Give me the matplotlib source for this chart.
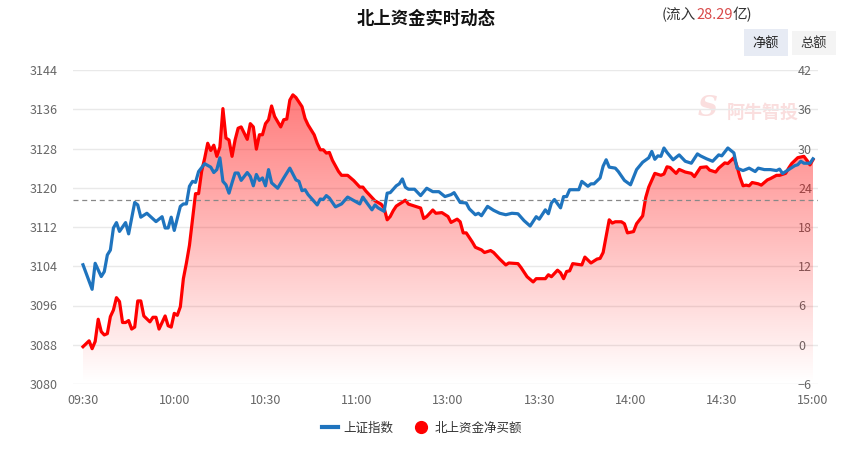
import matplotlib
matplotlib.use("Agg")
import matplotlib.pyplot as plt
import numpy as np
from matplotlib.lines import Line2D
from matplotlib.patches import Rectangle, Polygon

plt.rcParams['font.family'] = ['Noto Sans CJK SC', 'DejaVu Sans']

# x axis: trading minutes since 09:30 (11:30 and 13:00 share one point)
time_ticks = [0, 30, 60, 90, 120, 150, 180, 210, 240]
time_labels = ["09:30", "10:00", "10:30", "11:00", "13:00", "13:30", "14:00", "14:30", "15:00"]
left_ticks = [3080, 3088, 3096, 3104, 3112, 3120, 3128, 3136, 3144]
right_ticks = [-6, 0, 6, 12, 18, 24, 30, 36, 42]
prev_close = 3117.55
net_inflow = "28.29"

# 上证指数
blue_t = [0, 3, 4, 6, 7, 8, 9, 10, 11, 12, 14, 15, 17, 18, 19, 21, 24, 26, 27, 28,
          29, 30, 32, 33, 34, 35, 36, 37, 38, 40, 42, 43, 44, 45, 46, 47, 48, 49, 50, 51,
          52, 54, 55, 56, 57, 58, 59, 60, 61, 62, 64, 66, 68, 70, 71, 72, 73, 74, 75, 77,
          78, 79, 80, 81, 83, 85, 87, 89, 91, 92, 93, 95, 96, 97, 99, 100, 101, 103, 104, 105,
          106, 107, 109, 111, 113, 115, 117, 119, 121, 122, 124, 126, 127, 129, 130, 131, 133, 135, 137, 139,
          141, 143, 145, 147, 149, 150, 152, 153, 154, 155, 157, 158, 159, 160, 163, 164, 166, 167, 168, 170,
          171, 172, 173, 175, 176, 178, 180, 182, 184, 186, 187, 188, 189, 190, 191, 192, 194, 196, 198, 200,
          202, 203, 205, 207, 209, 210, 212, 214, 215, 217, 219, 221, 222, 224, 226, 228, 229, 230, 232, 234,
          235, 236, 237, 239, 240]
blue_v = [3104.3, 3099.3, 3104.6, 3101.9, 3102.9, 3106.3, 3107.3, 3111.8, 3112.9, 3111.1,
          3112.9, 3110.6, 3117.0, 3116.5, 3114.0, 3114.8, 3113.1, 3114.1, 3111.8, 3111.8,
          3114.0, 3111.3, 3116.2, 3116.7, 3116.7, 3120.3, 3121.3, 3121.1, 3123.3, 3124.9,
          3124.2, 3123.1, 3123.7, 3126.1, 3121.3, 3120.6, 3118.9, 3121.0, 3123.0, 3123.0,
          3121.5, 3123.1, 3122.3, 3120.4, 3122.7, 3121.5, 3122.0, 3120.4, 3123.7, 3121.0,
          3119.9, 3122.0, 3124.0, 3121.6, 3121.3, 3119.4, 3119.6, 3118.6, 3117.9, 3116.5,
          3117.7, 3117.6, 3118.4, 3117.9, 3116.1, 3116.7, 3118.1, 3117.4, 3116.7, 3118.1,
          3117.2, 3115.5, 3116.5, 3115.9, 3115.2, 3118.9, 3119.0, 3120.4, 3120.8, 3121.8,
          3120.1, 3119.7, 3119.7, 3118.4, 3119.9, 3119.2, 3119.2, 3118.2, 3118.6, 3119.0,
          3117.0, 3116.9, 3115.7, 3114.5, 3114.8, 3114.3, 3116.2, 3115.4, 3114.8, 3114.5,
          3114.8, 3114.7, 3113.3, 3112.2, 3114.1, 3113.6, 3115.5, 3114.7, 3116.9, 3117.6,
          3115.9, 3118.2, 3118.2, 3119.6, 3119.6, 3121.3, 3120.3, 3120.8, 3120.8, 3122.0,
          3124.4, 3125.7, 3124.2, 3124.0, 3123.3, 3121.5, 3120.6, 3123.7, 3125.2, 3126.1,
          3127.4, 3125.8, 3126.5, 3126.4, 3128.1, 3127.2, 3125.7, 3126.7, 3125.4, 3125.0,
          3126.9, 3126.5, 3125.9, 3125.4, 3126.7, 3126.5, 3128.1, 3127.1, 3124.0, 3123.5,
          3124.0, 3123.3, 3124.0, 3123.7, 3123.7, 3123.5, 3123.8, 3122.9, 3123.7, 3124.5,
          3124.7, 3125.4, 3125.0, 3125.0, 3125.9]

# 北上资金净买额 (亿)
red_t = [0, 2, 3, 4, 5, 6, 7, 8, 9, 10, 11, 12, 13, 14, 15, 16, 17, 18, 19, 20,
         22, 23, 24, 25, 27, 28, 29, 30, 31, 32, 33, 34, 35, 36, 37, 38, 39, 40, 41, 42,
         43, 44, 45, 46, 47, 48, 49, 50, 51, 52, 54, 55, 56, 57, 58, 59, 60, 61, 62, 63,
         64, 65, 66, 67, 68, 69, 70, 72, 73, 74, 76, 77, 78, 79, 80, 81, 82, 84, 85, 87,
         89, 91, 92, 93, 95, 96, 98, 99, 100, 101, 102, 103, 104, 106, 107, 109, 111, 112, 113, 115,
         116, 118, 120, 121, 123, 124, 125, 126, 128, 129, 131, 132, 134, 135, 137, 139, 140, 143, 144, 146,
         148, 149, 152, 153, 154, 156, 157, 158, 159, 160, 161, 164, 165, 167, 169, 170, 171, 173, 174, 175,
         177, 178, 179, 181, 182, 184, 185, 186, 188, 190, 191, 192, 193, 195, 196, 198, 200, 201, 203, 205,
         206, 208, 209, 211, 212, 214, 215, 216, 217, 218, 219, 220, 222, 223, 225, 226, 228, 229, 231, 232,
         233, 235, 237, 238, 239, 240]
red_v = [-0.3, 0.6, -0.6, 0.5, 3.9, 2.0, 1.5, 1.7, 4.3, 5.3, 7.2, 6.6, 3.4, 3.4, 3.7, 2.4, 2.7, 6.7, 6.7, 4.4,
         3.5, 4.2, 4.2, 2.4, 4.4, 2.9, 2.7, 4.8, 4.5, 5.8, 10.1, 12.5, 15.2, 19.1, 23.1, 23.1, 26.5, 28.5, 30.8, 29.7,
         30.5, 28.8, 30.2, 36.1, 31.6, 31.3, 28.8, 31.3, 33.1, 33.3, 31.4, 33.8, 33.3, 29.9, 32.1, 32.1, 33.8, 34.4, 36.5, 34.9,
         34.1, 33.3, 34.4, 34.5, 37.4, 38.2, 37.8, 36.4, 34.6, 33.6, 32.1, 30.8, 29.8, 29.8, 29.3, 29.4, 28.2, 26.5, 25.9, 25.9,
         25.1, 24.1, 24.1, 23.5, 22.5, 22.0, 21.5, 20.9, 19.1, 19.6, 20.5, 21.2, 21.5, 22.1, 21.5, 21.2, 20.9, 19.3, 19.6, 20.6,
         20.1, 20.2, 19.6, 18.7, 19.2, 18.8, 17.1, 17.1, 15.7, 14.9, 14.5, 14.1, 14.4, 14.1, 13.1, 12.2, 12.5, 12.4, 11.8, 10.4,
         9.6, 10.1, 10.1, 10.7, 10.4, 11.4, 11.0, 10.1, 11.2, 11.3, 12.4, 12.2, 13.4, 12.5, 13.1, 13.2, 14.1, 19.1, 18.6, 18.8,
         18.8, 18.5, 17.1, 17.3, 18.5, 19.7, 22.5, 24.1, 26.2, 25.9, 26.1, 27.2, 27.1, 26.2, 26.8, 26.4, 26.2, 25.7, 27.1, 27.2,
         26.7, 26.4, 27.0, 27.8, 27.7, 28.6, 27.3, 25.6, 24.3, 24.4, 24.3, 24.8, 24.6, 24.4, 25.2, 25.4, 25.9, 25.9, 26.2, 27.0,
         27.7, 28.6, 28.8, 28.2, 27.5, 28.29]

blue = '#1f74be'
red = '#ff0000'

fig = plt.figure(figsize=(8.52, 4.54), dpi=100)
ax = fig.add_axes([73 / 852, 70 / 454, 745 / 852, 314 / 454])
ax2 = ax.twinx()
ax.set_zorder(2)
ax.patch.set_visible(False)
ax2.set_zorder(1)

# gridlines sit under the gradient area
ax2.set_axisbelow(True)
ax2.grid(axis='y', color='#e9e9e9', lw=1, zorder=0)

# gradient area under the net-buy line
top = max(red_v)
g = np.linspace(0, 1, 256).reshape(-1, 1)
rgba = np.zeros((256, 1, 4))
rgba[..., 0] = 1.0
rgba[..., 3] = 0.52 * g
im = ax2.imshow(rgba, extent=[red_t[0], red_t[-1], -6, top], origin='lower',
                aspect='auto', zorder=1, interpolation='bilinear')
poly = Polygon(np.column_stack([np.r_[red_t[0], red_t, red_t[-1]], np.r_[-6, red_v, -6]]),
               closed=True, facecolor='none', edgecolor='none')
ax2.add_patch(poly)
im.set_clip_path(poly)
ax2.plot(red_t, red_v, color=red, lw=2.3, zorder=3, solid_joinstyle='round')

ax.plot(blue_t, blue_v, color=blue, lw=2.3, zorder=4, solid_joinstyle='round')
ax.axhline(prev_close, color='#888888', ls=(0, (4, 3)), lw=0.9, zorder=3)

xl = (-10 / 3.0417, 240 + 5 / 3.0417)
ax.set_xlim(xl)
ax2.set_xlim(xl)
ax.set_ylim(3080, 3144)
ax2.set_ylim(-6, 42)

ax.set_yticks(left_ticks)
ax2.set_yticks(right_ticks)
ax.set_xticks(time_ticks, time_labels)
ax.tick_params(axis='y', length=0, pad=11, labelsize=9, labelcolor='#666666')
ax.tick_params(axis='x', length=0, pad=7, labelsize=9, labelcolor='#666666')
ax2.tick_params(axis='y', length=0, pad=-14.4, labelsize=9, labelcolor='#666666')
for a in (ax, ax2):
    for s in a.spines.values():
        s.set_visible(False)

# watermark
ax2.text(763 / 852, 1 - 112 / 454, '阿牛智投', transform=fig.transFigure, ha='center', va='center',
         fontsize=13, fontweight='bold', color='#fadede', zorder=0)
ax2.text(708 / 852, 1 - 109 / 454, 'S', transform=fig.transFigure, ha='center', va='center',
         fontsize=20, fontstyle='italic', fontweight='bold', color='#fadede', zorder=0,
         family='DejaVu Serif')

# title and header
fig.text(426 / 852, 1 - 19 / 454, '北上资金实时动态', ha='center', va='center',
         fontsize=12.5, fontweight='bold', color='#111111')
t1 = fig.text(662 / 852, 1 - 15 / 454, '(流入', ha='left', va='center', fontsize=10.5, color='#333333')
a2 = ax.annotate(net_inflow, xy=(1, 0), xycoords=t1, ha='left', va='bottom',
                 fontsize=10.5, color='#d94a4a', annotation_clip=False)
ax.annotate('亿)', xy=(1, 0), xycoords=a2, ha='left', va='bottom',
            fontsize=10.5, color='#333333', annotation_clip=False)

fig.add_artist(Rectangle((744 / 852, 1 - 56 / 454), 44 / 852, 27 / 454,
                         transform=fig.transFigure, facecolor='#e7ebf4', edgecolor='none'))
fig.add_artist(Rectangle((792 / 852, 1 - 55 / 454), 44 / 852, 24 / 454,
                         transform=fig.transFigure, facecolor='#f4f4f4', edgecolor='none'))
fig.text(766 / 852, 1 - 43 / 454, '净额', ha='center', va='center', fontsize=9.5, color='#222222')
fig.text(814 / 852, 1 - 43 / 454, '总额', ha='center', va='center', fontsize=9.5, color='#333333')

# legend
handles = [Line2D([], [], color=blue, lw=3),
           Line2D([], [], color=red, marker='o', ls='none', markersize=8.5)]
fig.legend(handles, ['上证指数', '北上资金净买额'], loc='center', bbox_to_anchor=(422 / 852, 1 - 428 / 454),
           ncol=2, frameon=False, fontsize=9, handlelength=1.3, handletextpad=0.4,
           columnspacing=1.6, labelcolor='#333333')

fig.savefig('out.png', dpi=100)
